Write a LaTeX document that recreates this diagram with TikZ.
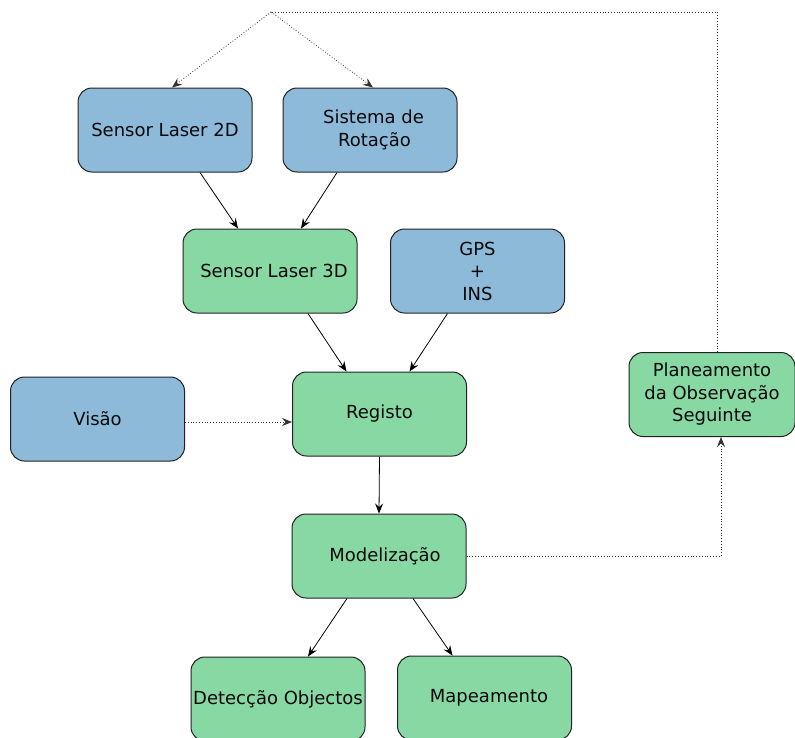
\documentclass[tikz,border=0pt]{standalone}
\usepackage{fontspec}
\setmainfont{DejaVu Sans}
\usetikzlibrary{arrows.meta}

\definecolor{boxblue}{RGB}{142,186,217}
\definecolor{boxgreen}{RGB}{136,216,163}
\definecolor{edgegray}{RGB}{34,34,34}
\definecolor{inkdark}{RGB}{10,10,10}

\tikzset{
  block/.style={draw=edgegray, line width=1pt, rounded corners=14pt,
    minimum width=174pt, minimum height=84pt, inner sep=0pt,
    align=center, text=inkdark,
    font=\fontsize{18}{22.5}\selectfont},
  sensorbox/.style={block, fill=boxblue},
  procbox/.style={block, fill=boxgreen},
  flow/.style={draw=black, line width=0.8pt, -{Stealth[length=10pt,width=8pt,inset=3.5pt]}},
  feedback/.style={draw=black!80, line width=0.8pt, dotted},
  feedbackarr/.style={feedback, -{Stealth[length=10pt,width=8pt,inset=3.5pt]}}
}

\begin{document}
\begin{tikzpicture}[x=1pt, y=-1pt]
  \useasboundingbox (0,0) rectangle (795,737);

  % acquisition
  \node[sensorbox] (l2d) at (165,130) {Sensor Laser 2D};
  \node[sensorbox] (rot) at (370,130) {\hspace*{7pt}Sistema de\\\hspace*{9pt}Rotação};
  \node[procbox]   (l3d) at (270,271) {\hspace*{8pt}Sensor Laser 3D};
  \node[sensorbox] (gps) at (477.5,271) {GPS\\+\\INS};

  % processing chain
  \node[sensorbox] (vis) at (97.5,419) {Visão};
  \node[procbox]   (reg) at (379.5,414) {Registo};
  \node[procbox]   (mod) at (379,556) {\hspace*{12pt}Modelização};
  \node[procbox, minimum width=166pt] (plan) at (712,394.5)
       {Planeamento\\da Observação\\Seguinte};

  % outputs
  \node[procbox]   (det) at (278,699) {Detecção Objectos};
  \node[procbox]   (map) at (484.5,698) {\hspace*{9pt}Mapeamento};

  % solid data flow
  \draw[flow] ([xshift=35pt]l2d.south) -- ([xshift=-32pt]l3d.north);
  \draw[flow] ([xshift=-33pt]rot.south) -- ([xshift=31pt]l3d.north);
  \draw[flow] ([xshift=38pt]l3d.south) -- ([xshift=-33pt]reg.north);
  \draw[flow] ([xshift=-30pt]gps.south) -- ([xshift=30pt]reg.north);
  \draw[flow] (reg.south) -- (mod.north);
  \draw[flow] ([xshift=-32pt]mod.south) -- ([xshift=30pt]det.north);
  \draw[flow] ([xshift=34pt]mod.south) -- ([xshift=-32pt]map.north);

  % dotted links
  \draw[feedbackarr] ([yshift=-3pt]vis.east) -- ([yshift=-3pt]vis.east -| reg.west);
  \coordinate (lowcorner) at (721,556);
  \coordinate (topjoin) at (271,12);
  \coordinate (topcorner) at (717,12);
  \draw[feedbackarr] (mod.east) -- (lowcorner) -- (lowcorner |- plan.south);
  \draw[feedback] (topcorner |- plan.north) -- (topcorner) -- (topjoin);
  \draw[feedbackarr] (topjoin) -- ([xshift=7pt]l2d.north);
  \draw[feedbackarr] (topjoin) -- ([xshift=3pt]rot.north);
\end{tikzpicture}
\end{document}
